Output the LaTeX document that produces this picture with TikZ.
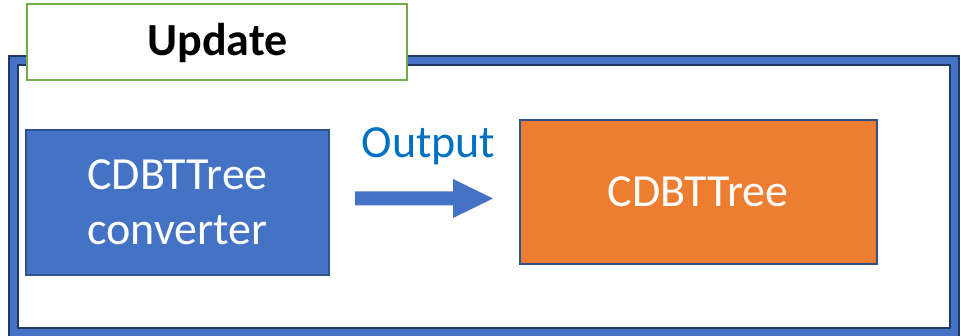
\documentclass[tikz,border=0pt]{standalone}
\usepackage{fontspec}
\setmainfont{Carlito}
\usetikzlibrary{calc}
\definecolor{offblue}{HTML}{4472C4}
\definecolor{edgeblue}{HTML}{2F528F}
\definecolor{navy}{HTML}{1F3864}
\definecolor{offorange}{HTML}{ED7D31}
\definecolor{offgreen}{HTML}{70AD47}
\definecolor{textblue}{HTML}{0070C0}
\tikzset{
  bigfont/.style={font=\fontsize{46}{55}\selectfont},
  procbox/.style={draw=edgeblue, line width=2pt, inner sep=0pt, text=white, bigfont, align=center},
  titlebox/.style={draw=offgreen, fill=white, line width=2.2pt, inner sep=0pt, bigfont, align=center},
}
\begin{document}
\begin{tikzpicture}[x=1pt,y=-1pt]
\useasboundingbox (0,0) rectangle (961,336);
% outer frame
\draw[navy, line width=11pt] (13.5,60.5) rectangle (954.5,332.5);
\draw[offblue, line width=7pt] (13.5,60.5) rectangle (954.5,332.5);
% title box
\node[titlebox, minimum width=380pt, minimum height=76pt] (title) at (217,42) {};
\node[bigfont, text=black, anchor=base] (upd) at (217.5,55.5) {\bfseries Update};
% boxes
\node[procbox, fill=offblue, minimum width=303pt, minimum height=145pt] (conv) at (177.5,202.5) {CDBTTree\\converter};
\node[procbox, fill=offorange, minimum width=357pt, minimum height=144pt] (tree) at (698,192) {CDBTTree};
% arrow
\coordinate (as) at (355,198.5);
\coordinate (ae) at (493,198.5);
\fill[offblue] ($(as)+(0,-7)$) -- ($(ae)+(-40,-7)$) -- ($(ae)+(-40,-19.5)$) -- (ae)
  -- ($(ae)+(-40,19.5)$) -- ($(ae)+(-40,7)$) -- ($(as)+(0,7)$) -- cycle;
\node[bigfont, text=textblue, anchor=base, inner sep=0pt] (out) at (428.5,158) {Output};
\end{tikzpicture}
\end{document}
